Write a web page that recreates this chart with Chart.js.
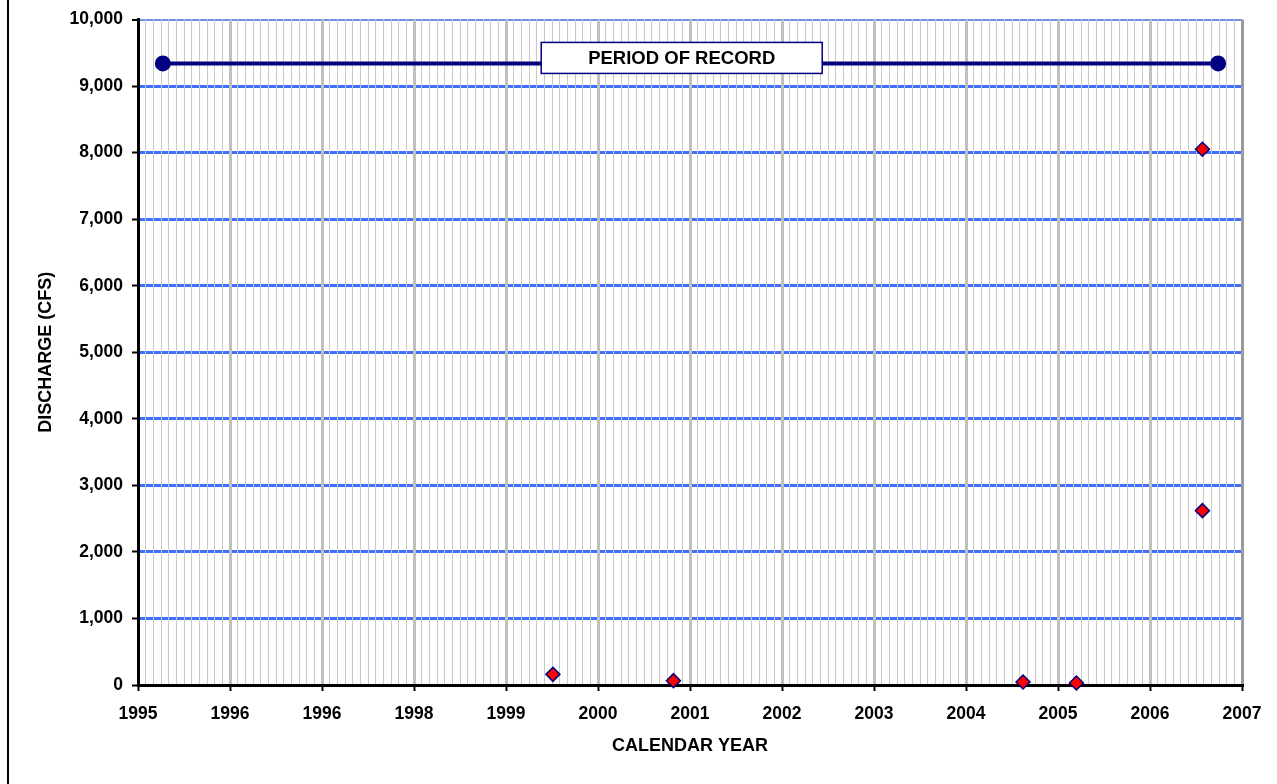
<!DOCTYPE html>
<html><head><meta charset="utf-8">
<script src="https://cdn.jsdelivr.net/npm/chart.js@4.4.1/dist/chart.umd.min.js"></script>
<style>
html,body{margin:0;padding:0;background:#fff;overflow:hidden}
#wrap{position:relative;width:1277px;height:784px}
#frame{position:absolute;left:7px;top:0;width:2px;height:784px;background:#000}
canvas{position:absolute;left:0;top:0}
</style></head><body>
<div id="wrap"><canvas id="c" width="1277" height="784"></canvas><div id="frame"></div></div>
<script>
// ---- data ----
const xTickLabels = ["1995","1996","1996","1998","1999","2000","2001","2002","2003","2004","2005","2006","2007"];
const sampleYears = [1999.51, 2000.82, 2004.62, 2005.20, 2006.57, 2006.57];
const sampleDischarge = [160, 65, 45, 30, 8050, 2620];
const recordYears = [1995.27, 2006.74];
const recordDischarge = [9340, 9340];
const recordLabel = "PERIOD OF RECORD";
const xTitle = "CALENDAR YEAR";
const yTitle = "DISCHARGE (CFS)";

const FONT = "'Liberation Sans', Arial, Helvetica, sans-serif";
const fmt = v => String(v).replace(/\B(?=(\d{3})+(?!\d))/g, ',');

const labelPlugin = {
  id: 'recordLabel',
  afterDatasetsDraw(chart) {
    const {ctx, scales: {x, y}} = chart;
    const cx = x.getPixelForValue(2000.91);
    const cy = y.getPixelForValue(recordDischarge[0]) - 5.5;
    const w = 281, h = 31;
    ctx.save();
    ctx.fillStyle = '#fff';
    ctx.strokeStyle = '#000080';
    ctx.lineWidth = 1.5;
    ctx.fillRect(cx - w / 2, cy - h / 2, w, h);
    ctx.strokeRect(cx - w / 2, cy - h / 2, w, h);
    ctx.fillStyle = '#000';
    ctx.font = "bold 18.5px " + FONT;
    ctx.textAlign = 'center';
    ctx.textBaseline = 'middle';
    ctx.fillText(recordLabel, cx, cy + 1);
    ctx.restore();
  }
};

new Chart(document.getElementById('c'), {
  type: 'scatter',
  data: {
    datasets: [
      {
        label: 'Measurements',
        data: sampleYears.map((v, i) => ({x: v, y: sampleDischarge[i]})),
        pointStyle: 'rectRot',
        pointRadius: 7,
        pointHoverRadius: 7,
        pointBackgroundColor: '#ff0000',
        pointBorderColor: '#000080',
        pointBorderWidth: 1.5,
        showLine: false,
        clip: false
      },
      {
        label: 'Period of record',
        data: recordYears.map((v, i) => ({x: v, y: recordDischarge[i]})),
        showLine: true,
        borderColor: '#000080',
        borderWidth: 4,
        pointStyle: 'circle',
        pointRadius: 6,
        pointBackgroundColor: '#000080',
        pointBorderColor: '#000080',
        clip: false
      }
    ]
  },
  options: {
    responsive: false,
    animation: false,
    devicePixelRatio: 1,
    layout: {padding: {left: 0, top: 17, right: 35, bottom: 0}},
    plugins: {legend: {display: false}, tooltip: {enabled: false}},
    scales: {
      x: {
        type: 'linear',
        min: 1995,
        max: 2007,
        afterBuildTicks: s => {
          const t = [];
          for (let i = 0; i <= (xTickLabels.length - 1) * 12; i++) t.push({value: 1995 + i / 12});
          s.ticks = t;
        },
        afterFit: s => { s.height = 99; },
        ticks: {
          autoSkip: false, maxRotation: 0, minRotation: 0, padding: 13, color: '#000',
          font: {family: FONT, size: 17.5, weight: 'bold'},
          callback: (v, i) => (i % 12 === 0 ? xTickLabels[i / 12] : '')
        },
        grid: {
          z: -1,
          color: c => {
            if (c.index === (xTickLabels.length - 1) * 12) return '#9a9a9a';
            return c.index % 12 === 0 ? '#c0c0c0' : '#c8c8c8';
          },
          lineWidth: c => (c.index % 12 === 0 ? 3 : 1),
          tickLength: 6,
          tickWidth: 2,
          tickColor: c => (c.index % 12 === 0 ? '#000' : 'rgba(0,0,0,0)')
        },
        border: {color: '#000', width: 3},
        title: {
          display: true, text: xTitle, color: '#000',
          font: {family: FONT, size: 18, weight: 'bold'},
          padding: {top: 0, bottom: 27}
        }
      },
      y: {
        min: 0,
        max: 10000,
        afterFit: s => { s.width = 138; },
        ticks: {
          stepSize: 1000, padding: 9, color: '#000',
          font: {family: FONT, size: 17.5, weight: 'bold'},
          callback: v => fmt(v)
        },
        grid: {
          z: -2,
          color: c => (c.tick && c.tick.value === 10000 ? '#6f8fe8' : '#4070ff'),
          lineWidth: c => (c.tick && c.tick.value === 10000 ? 2 : 3),
          tickLength: 6,
          tickWidth: 2,
          tickColor: '#000'
        },
        border: {color: '#000', width: 3},
        title: {
          display: true, text: yTitle, color: '#000',
          font: {family: FONT, size: 18, weight: 'bold'},
          padding: {top: 35, bottom: 0}
        }
      }
    }
  },
  plugins: [labelPlugin]
});
</script>
</body></html>
